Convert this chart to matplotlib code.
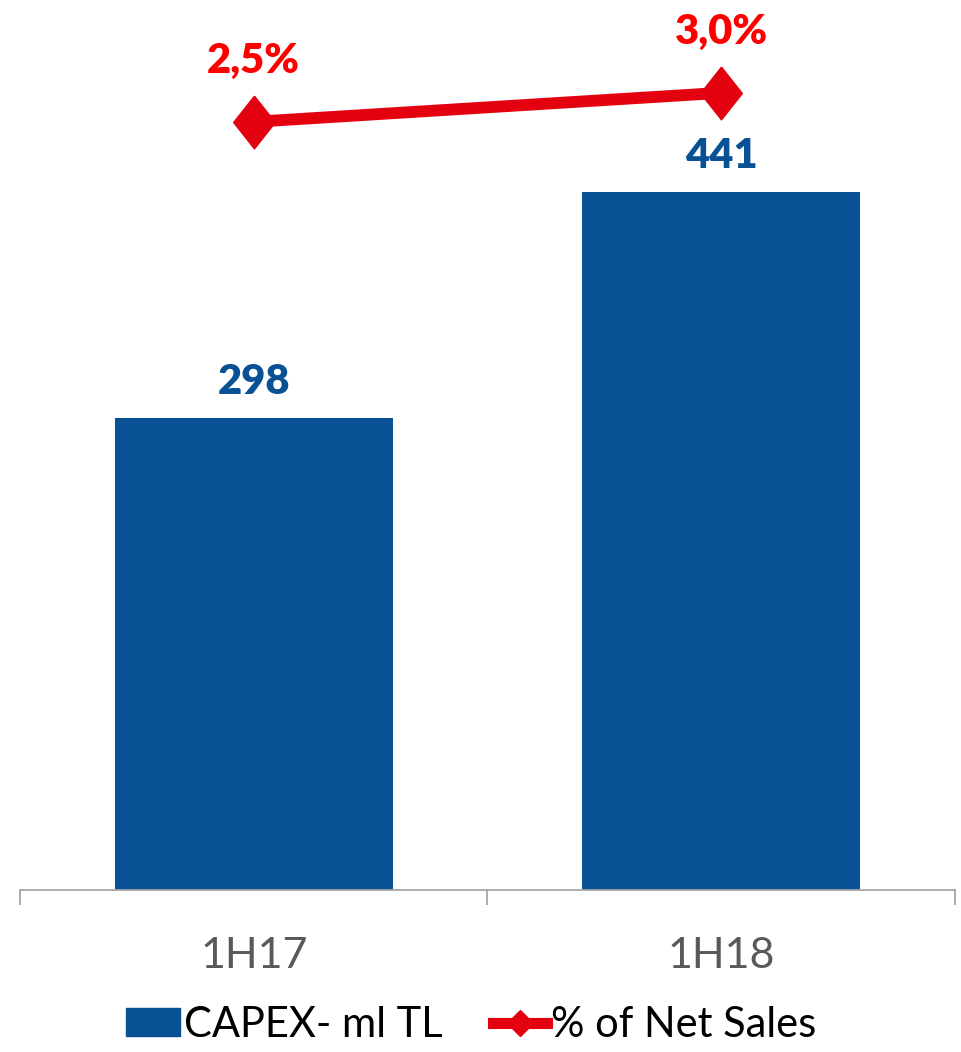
import matplotlib.pyplot as plt
from matplotlib.lines import Line2D
from matplotlib.patches import Patch

periods = ["1H17", "1H18"]
capex = [298, 441]
net_sales_pct = [2.5, 3.0]
pct_labels = ["2,5%", "3,0%"]

blue = "#085194"
red_line = "#E3000F"
red_text = "#FF0000"

plt.rcParams['font.family'] = ['Lato', 'DejaVu Sans']

fig = plt.figure(figsize=(9.62, 10.52), dpi=100, facecolor='white')
ax = fig.add_axes([20 / 962, (1052 - 890) / 1052, 935 / 962, 890 / 1052])

x = list(range(len(periods)))
ax.bar(x, capex, width=0.595, color=blue, zorder=2)
for xi, v in zip(x, capex):
    ax.annotate(str(v), (xi, v), xytext=(0, 12), textcoords='offset points',
                ha='center', va='bottom', fontsize=30, fontweight='heavy', color=blue)

ax.set_xlim(-0.5, 1.5)
ax.set_ylim(0, 562)
ax.set_yticks([])
for s in ['top', 'right', 'left']:
    ax.spines[s].set_visible(False)
ax.spines['bottom'].set_color('#A6A6A6')
ax.spines['bottom'].set_linewidth(1.3)
ax.set_xticks(x)
ax.set_xticklabels(periods, fontsize=31, color='#595959')
ax.tick_params(axis='x', which='major', length=0, pad=34)
ax.set_xticks([-0.5, 0.5, 1.5], minor=True)
ax.tick_params(axis='x', which='minor', length=11, width=1.3, color='#A6A6A6')

# percentage line on its own scale
ax2 = ax.twinx()
ax2.set_ylim(-10.74, 4.60)
ax2.axis('off')
diamond = [(0, 1), (0.79, 0), (0, -1), (-0.79, 0), (0, 1)]
ax2.plot(x, net_sales_pct, color=red_line, lw=8.5, marker=diamond, markersize=38,
         markerfacecolor=red_line, markeredgecolor=red_line, solid_capstyle='butt',
         clip_on=False, zorder=3)
for xi, v, lab in zip(x, net_sales_pct, pct_labels):
    ax2.annotate(lab, (xi, v), xytext=(0, 30), textcoords='offset points',
                 ha='center', va='bottom', fontsize=30, fontweight='heavy', color=red_text)

handles = [
    Patch(facecolor=blue, edgecolor=blue, label='CAPEX- ml TL'),
    Line2D([0], [0], color=red_line, lw=8, marker='D', markersize=13, label='% of Net Sales'),
]
fig.legend(handles=handles, loc='center', bbox_to_anchor=(0.49, 1 - 1025 / 1052), ncol=2,
           frameon=False, fontsize=30, handlelength=1.3, handleheight=0.65,
           handletextpad=0.1, columnspacing=1.2, labelcolor='black')

fig.savefig('out.png', dpi=100, facecolor='white')
